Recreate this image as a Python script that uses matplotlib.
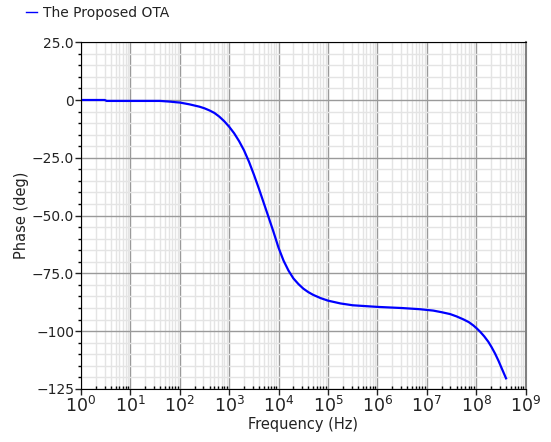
import numpy as np
import matplotlib.pyplot as plt
from matplotlib.ticker import LogLocator, MultipleLocator, FixedLocator, FixedFormatter, NullFormatter

# Phase response (frequency given as log10(Hz))
log_freq = [0.0, 0.3, 0.48, 0.52, 1.0, 1.3, 1.6, 1.8, 1.94, 2.0, 2.2, 2.4,
            2.5, 2.6, 2.7, 2.8, 2.9, 3.0, 3.1, 3.2, 3.3, 3.4, 3.5, 3.6, 3.7,
            3.8, 3.9, 4.0, 4.1, 4.2, 4.3, 4.4, 4.5, 4.6, 4.7, 4.85, 5.0,
            5.25, 5.5, 6.0, 6.5, 6.86, 7.13, 7.3, 7.47, 7.6, 7.74, 7.85,
            7.94, 8.01, 8.077, 8.16, 8.245, 8.31, 8.381, 8.45, 8.516, 8.603]
phase_deg = [0.0, 0.0, 0.0, -0.4, -0.4, -0.4, -0.4, -0.7, -1.0, -1.1, -1.9,
             -2.9, -3.6, -4.5, -5.6, -7.2, -9.2, -11.6, -14.4, -17.8, -21.8,
             -26.7, -32.3, -38.3, -44.6, -50.9, -57.3, -64.0, -69.5, -73.8,
             -77.2, -79.6, -81.6, -83.1, -84.3, -85.7, -86.8, -88.0, -88.8,
             -89.5, -90.0, -90.5, -91.1, -91.8, -92.6, -93.6, -94.9, -96.1,
             -97.5, -98.8, -100.2, -102.2, -104.6, -106.9, -109.7, -112.8,
             -116.1, -120.4]

ytick_vals = [25, 0, -25, -50, -75, -100, -125]
ytick_labels = ['25.0', '0', '\u221225.0', '\u221250.0', '\u221275.0', '\u2212100', '\u2212125']
xtick_vals = [10.0 ** k for k in range(10)]
xtick_labels = [r'$\mathregular{10^{%d}}$' % k for k in range(10)]

plt.rcParams['font.family'] = 'DejaVu Sans'
plt.rcParams['mathtext.default'] = 'regular'

fig = plt.figure(figsize=(5.51, 4.42), dpi=100)
ax = fig.add_axes([0.147, 0.12, 0.807, 0.7845])

freq_hz = np.power(10.0, log_freq)
ax.plot(freq_hz, phase_deg, color='#0000ff', linewidth=1.6, label='The Proposed OTA')

ax.set_xscale('log')
ax.set_xlim(1, 1e9)
ax.set_ylim(-125, 25)

ax.xaxis.set_major_locator(FixedLocator(xtick_vals))
ax.xaxis.set_major_formatter(FixedFormatter(xtick_labels))
ax.xaxis.set_minor_locator(LogLocator(base=10, subs=range(2, 10), numticks=20))
ax.xaxis.set_minor_formatter(NullFormatter())
ax.yaxis.set_major_locator(FixedLocator(ytick_vals))
ax.yaxis.set_major_formatter(FixedFormatter(ytick_labels))
ax.yaxis.set_minor_locator(MultipleLocator(5))

ax.grid(which='major', color='#9a9a9a', linewidth=1.0)
ax.grid(which='minor', color='#e4e4e4', linewidth=1.0)
ax.set_axisbelow(True)

ax.tick_params(axis='x', which='major', direction='out', length=4, width=1, labelsize=12.5, pad=1, colors='#222222')
ax.tick_params(axis='x', which='minor', direction='in', length=2.5, width=1)
ax.tick_params(axis='y', which='major', direction='out', length=4, width=1, labelsize=10, pad=1, colors='#222222')
ax.tick_params(axis='y', which='minor', direction='out', length=2, width=1)

for side in ['left', 'bottom', 'top']:
    ax.spines[side].set_color('black')
ax.spines['right'].set_color('#808080')
ax.spines['right'].set_linewidth(1.5)

ax.set_xlabel('Frequency (Hz)', fontsize=10.5, color='#222222', labelpad=1)
ax.set_ylabel('Phase (deg)', fontsize=10.5, color='#222222', labelpad=2)

leg = fig.legend(loc='upper left', bbox_to_anchor=(0.025, 1.015), frameon=False,
                 handlelength=0.8, handletextpad=0.4, fontsize=10, labelcolor='#222222')
for h in leg.get_lines():
    h.set_linewidth(1.0)

fig.savefig('out.png', dpi=100)
